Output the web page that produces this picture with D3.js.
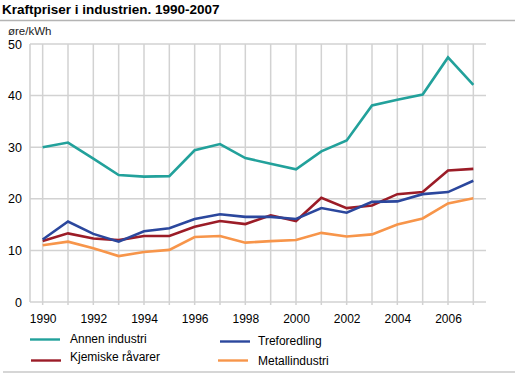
<!DOCTYPE html>
<html>
<head>
<meta charset="utf-8">
<script src="https://cdn.jsdelivr.net/npm/d3@7"></script>
<style>
  body { margin: 0; background: #fff; }
  svg text { font-family: "Liberation Sans", Arial, sans-serif; fill: #000; }
</style>
</head>
<body>
<div id="chart"></div>
<script>
// Data
var years = [1990, 1991, 1992, 1993, 1994, 1995, 1996, 1997, 1998, 1999, 2000, 2001, 2002, 2003, 2004, 2005, 2006, 2007];
var annenIndustri = [30.0, 30.9, 27.8, 24.6, 24.3, 24.4, 29.4, 30.6, 27.9, 26.8, 25.7, 29.2, 31.3, 38.1, 39.2, 40.2, 47.4, 42.1];
var kjemiskeRavarer = [11.8, 13.3, 12.3, 12.0, 12.8, 12.8, 14.6, 15.7, 15.1, 16.8, 15.7, 20.2, 18.2, 18.7, 20.9, 21.3, 25.5, 25.8];
var treforedling = [12.1, 15.6, 13.2, 11.7, 13.7, 14.3, 16.1, 17.0, 16.5, 16.5, 16.1, 18.2, 17.3, 19.4, 19.5, 20.9, 21.3, 23.5];
var metallindustri = [11.0, 11.7, 10.4, 8.9, 9.7, 10.1, 12.6, 12.8, 11.5, 11.8, 12.0, 13.4, 12.7, 13.1, 15.0, 16.2, 19.1, 20.1];
var yTicks = [0, 10, 20, 30, 40, 50];
var xTickYears = [1990, 1992, 1994, 1996, 1998, 2000, 2002, 2004, 2006];

var series = [
  { name: "Annen industri", values: annenIndustri, color: "#22a19b" },
  { name: "Kjemiske råvarer", values: kjemiskeRavarer, color: "#9b1c27" },
  { name: "Treforedling", values: treforedling, color: "#2b479d" },
  { name: "Metallindustri", values: metallindustri, color: "#f7954a" }
];

var width = 515, height = 375;
var plot = { left: 30, right: 486, top: 44, bottom: 302 };

var svg = d3.select("#chart").append("svg")
  .attr("width", width).attr("height", height);

// Title + rules
svg.append("text").attr("x", 2).attr("y", 14)
  .style("font-size", "13.5px").style("font-weight", "bold")
  .text("Kraftpriser i industrien. 1990-2007");
svg.append("line").attr("x1", 0).attr("x2", width).attr("y1", 20.5).attr("y2", 20.5)
  .attr("stroke", "#b4b4b4").attr("stroke-width", 1.5);
svg.append("line").attr("x1", 3).attr("x2", width).attr("y1", 372).attr("y2", 372)
  .attr("stroke", "#c8c8c8").attr("stroke-width", 1.5);

svg.append("text").attr("x", 8).attr("y", 35)
  .style("font-size", "11.5px").style("fill", "#222").text("øre/kWh");

var x = d3.scaleLinear().domain([1989.5, 2007.5]).range([plot.left, plot.right]);
var y = d3.scaleLinear().domain([0, 50]).range([plot.bottom, plot.top]);

// Grid
var grid = svg.append("g");
grid.selectAll(".vg").data(years).enter().append("line")
  .attr("x1", function (d) { return x(d); }).attr("x2", function (d) { return x(d); })
  .attr("y1", y(50)).attr("y2", plot.bottom + 3)
  .attr("stroke", "#d2d2d2").attr("stroke-width", 1.5);
grid.selectAll(".hg").data(yTicks).enter().append("line")
  .attr("x1", plot.left).attr("x2", plot.right)
  .attr("y1", function (d) { return y(d); }).attr("y2", function (d) { return y(d); })
  .attr("stroke", "#d2d2d2").attr("stroke-width", 1.5);
grid.append("line").attr("x1", plot.left).attr("x2", plot.left)
  .attr("y1", y(50)).attr("y2", plot.bottom)
  .attr("stroke", "#cfcfcf").attr("stroke-width", 1.5);

// Axes labels
var yAxis = d3.axisLeft(y).tickValues(yTicks).tickSize(0).tickPadding(8);
var gy = svg.append("g").attr("transform", "translate(" + plot.left + ",0)").call(yAxis);
gy.select(".domain").remove();
gy.selectAll("text").style("font-size", "12.5px").style("font-family", "Liberation Sans, Arial, sans-serif").attr("fill", "#000");

var xAxis = d3.axisBottom(x).tickValues(xTickYears).tickFormat(d3.format("d")).tickSize(0).tickPadding(12);
var gx = svg.append("g").attr("transform", "translate(0," + plot.bottom + ")").call(xAxis);
gx.select(".domain").remove();
gx.selectAll("text").style("font-size", "12px").style("font-family", "Liberation Sans, Arial, sans-serif").attr("fill", "#000");

// Lines
var line = d3.line()
  .x(function (d, i) { return x(years[i]); })
  .y(function (d) { return y(d); });

var drawOrder = [1, 3, 2, 0];
drawOrder.forEach(function (k) {
  var s = series[k];
  svg.append("path").datum(s.values)
    .attr("fill", "none").attr("stroke", s.color).attr("stroke-width", 2.6)
    .attr("stroke-linejoin", "miter").attr("d", line);
});

// Legend
var legendPos = [
  { x: 30, y: 339.5, ty: 343 },
  { x: 31, y: 360.5, ty: 361 },
  { x: 220, y: 341.5, ty: 345 },
  { x: 218, y: 360.5, ty: 365 }
];
series.forEach(function (s, i) {
  var p = legendPos[i];
  svg.append("line").attr("x1", p.x).attr("x2", p.x + 30)
    .attr("y1", p.y).attr("y2", p.y)
    .attr("stroke", s.color).attr("stroke-width", 2.4);
  svg.append("text").attr("x", p.x < 100 ? 70 : 258).attr("y", p.ty)
    .style("font-size", "12px").text(s.name);
});
</script>
</body>
</html>
